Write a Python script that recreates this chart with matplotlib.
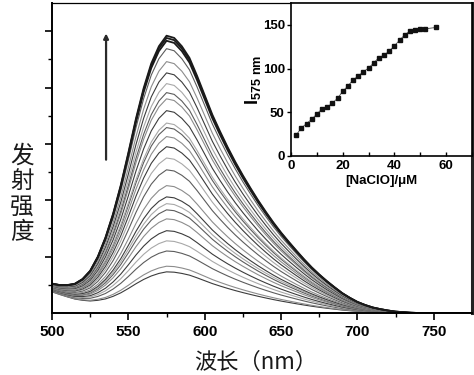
import matplotlib
import matplotlib.pyplot as plt

matplotlib.use('Agg')

plt.rcParams['font.family'] = ['Liberation Sans', 'DejaVu Sans']
plt.rcParams['mathtext.fontset'] = 'custom'
plt.rcParams['mathtext.bf'] = 'Liberation Sans:bold'
plt.rcParams['mathtext.rm'] = 'Liberation Sans'

# emission spectra, sampled every 5 nm (500..775)
wavelength = list(range(500, 780, 5))

# normalised emission band
band = [0.035, 0.040, 0.050, 0.065, 0.090, 0.128, 0.185, 0.260, 0.350, 0.455,
        0.575, 0.700, 0.810, 0.900, 0.962, 1.000, 0.992, 0.962, 0.920, 0.855,
        0.785, 0.715, 0.655, 0.598, 0.545, 0.496, 0.450, 0.406, 0.365, 0.326,
        0.290, 0.257, 0.225, 0.194, 0.165, 0.139, 0.115, 0.093, 0.072, 0.055,
        0.040, 0.029, 0.020, 0.014, 0.009, 0.005, 0.003, 0.001, 0.0, 0.0,
        0.0, 0.0, 0.0, 0.0, 0.0, 0.0]

# scatter / blank background at the short-wavelength end
background = [0.35, 0.30, 0.25, 0.20, 0.16, 0.12, 0.09, 0.06, 0.04, 0.025,
              0.015, 0.008, 0.004] + [0.0] * 43

# peak heights of each spectrum (arb. units), low to high
peaks = [0.73, 0.83, 1.10, 1.28, 1.46, 1.67, 1.83, 1.94, 2.06, 2.26, 2.54,
         2.75, 2.95, 3.13, 3.29, 3.37, 3.59, 3.80, 3.91, 4.07, 4.26, 4.46,
         4.69, 4.83, 4.88, 4.92]

# inset: I575 vs [NaClO]
naclo = [2, 4, 6, 8, 10, 12, 14, 16, 18, 20, 22, 24, 26, 28, 30, 32, 34, 36,
         38, 40, 42, 44, 46, 48, 50, 52, 56]
i575 = [24, 32, 37, 42, 48, 54, 56, 60.5, 66, 74, 80, 87, 91.5, 96.5, 100.5,
        106.5, 112.5, 115.5, 120, 126, 132.5, 138.5, 143, 144.5, 145, 145.5, 147]

line_colors = ['#3c3c3c', '#8c8c8c', '#5c5c5c', '#a8a8a8']

fig = plt.figure(figsize=(4.74, 3.75), dpi=100)
ax = fig.add_axes([52 / 474, 62 / 375, 420 / 474, 310 / 375])

for i, p in enumerate(peaks):
    spectrum = [b + p * s for b, s in zip(background, band)]
    if i >= len(peaks) - 3:
        color, lw = '#1a1a1a', 1.3
    else:
        color, lw = line_colors[i % len(line_colors)], 0.8
    ax.plot(wavelength, spectrum, color=color, lw=lw)

ax.annotate('', xy=(535.4, 4.96), xytext=(535.4, 2.72),
            arrowprops=dict(arrowstyle='-|>', color='#2a2a2a', lw=1.6,
                            mutation_scale=7, shrinkA=0, shrinkB=0))

ax.set_xlim(500, 775)
ax.set_ylim(0, 5.5)
ax.set_xticks([500, 550, 600, 650, 700, 750])
ax.set_xticks(range(525, 775, 50), minor=True)
ax.set_yticks([1, 2, 3, 4, 5])
ax.set_yticks([0.5, 1.5, 2.5, 3.5, 4.5], minor=True)
ax.set_yticklabels([])
ax.tick_params(axis='both', which='major', direction='out', length=5, width=1.2,
               labelsize=11, pad=4)
ax.tick_params(axis='both', which='minor', direction='out', length=3, width=1.0)
for lbl in ax.get_xticklabels():
    lbl.set_fontweight('bold')
for side in ['left', 'bottom']:
    ax.spines[side].set_linewidth(1.4)
ax.spines['top'].set_linewidth(0.9)
ax.spines['right'].set_linewidth(2.2)
ax.spines['right'].set_color('#222222')

# stacked vertical y label
for k, ch in enumerate('发射强度'):
    fig.text(22 / 474, 1 - (156 + 25.5 * k) / 375, ch, ha='center', va='center',
             fontsize=17, family=['Noto Sans CJK SC', 'DejaVu Sans'], color='#1a1a1a')

fig.text(256 / 474, 1 - 362 / 375, '波长（nm）', ha='center', va='center',
         fontsize=16, family=['Noto Sans CJK SC', 'DejaVu Sans'], color='#1a1a1a')

# inset
ins = fig.add_axes([291 / 474, 219 / 375, 181 / 474, 153 / 375])
ins.plot(naclo, i575, color='#444444', lw=0.6, marker='s', markersize=2.6,
         markerfacecolor='#111111', markeredgecolor='#111111')
ins.set_xlim(0, 70)
ins.set_ylim(0, 175)
ins.set_xticks([0, 20, 40, 60])
ins.set_xticks([10, 30, 50, 70], minor=True)
ins.set_yticks([0, 50, 100, 150])
ins.tick_params(axis='x', which='both', direction='in', length=3, width=1.0,
                labelsize=9.5, pad=3)
ins.tick_params(axis='y', which='both', direction='out', length=3, width=1.0,
                labelsize=9.5, pad=1.5)
for lbl in ins.get_xticklabels() + ins.get_yticklabels():
    lbl.set_fontweight('bold')
for side in ins.spines:
    ins.spines[side].set_linewidth(1.2)
ins.set_xlabel('[NaClO]/μM', fontsize=9.5, fontweight='bold', labelpad=2)
ins.set_ylabel(r'$\mathbf{I}_{\mathbf{575\ nm}}$', fontsize=13, labelpad=0)

fig.savefig('out.png', dpi=100)
plt.close()
